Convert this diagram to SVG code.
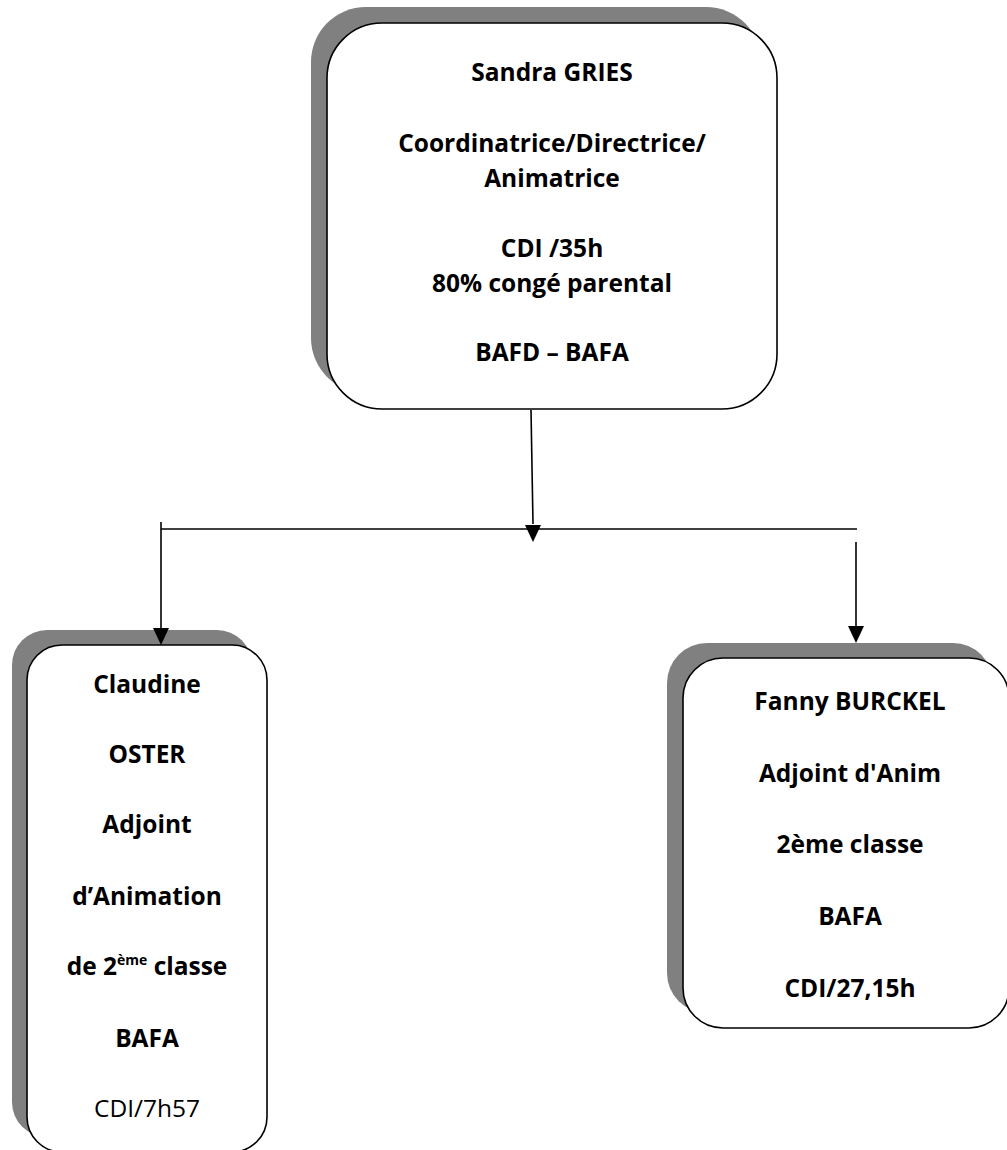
<svg xmlns="http://www.w3.org/2000/svg" width="1007" height="1150" viewBox="0 0 1007 1150">
<defs>
<style>
.shadow{fill:#808080;stroke:none}
.box{fill:#ffffff;stroke:#000000;stroke-width:1.6}
.t{font-family:"Open Sans","Liberation Sans",sans-serif;font-size:24.5px;font-weight:bold;fill:#000;text-anchor:middle}
.r{font-weight:normal}
.line{stroke:#000;stroke-width:1.6;fill:none}
.head{fill:#000}
</style>
</defs>
<rect width="1007" height="1150" fill="#ffffff"/>
<g id="node-sandra">
<rect class="shadow" x="311" y="7" width="450" height="386" rx="55"/>
<rect class="box" x="327" y="23" width="450" height="386" rx="55"/>
<text class="t" x="552" y="81">Sandra GRIES</text>
<text class="t" x="552" y="152">Coordinatrice/Directrice/</text>
<text class="t" x="552" y="187">Animatrice</text>
<text class="t" x="552" y="257">CDI /35h</text>
<text class="t" x="552" y="292">80% congé parental</text>
<text class="t" x="552" y="361">BAFD – BAFA</text>
</g>
<g id="node-claudine">
<rect class="shadow" x="12" y="630" width="240" height="507" rx="35"/>
<rect class="box" x="27" y="645" width="240" height="507" rx="35"/>
<text class="t" x="147" y="693">Claudine</text>
<text class="t" x="147" y="763">OSTER</text>
<text class="t" x="147" y="833">Adjoint</text>
<text class="t" x="147" y="905">d’Animation</text>
<text class="t" x="147" y="975">de 2<tspan font-size="14" dy="-10">ème</tspan><tspan dy="10"> classe</tspan></text>
<text class="t" x="147" y="1047">BAFA</text>
<text class="t r" x="147" y="1117">CDI/7h57</text>
</g>
<g id="node-fanny">
<rect class="shadow" x="667" y="643" width="326" height="370" rx="40"/>
<rect class="box" x="683" y="658" width="326" height="370" rx="40"/>
<text class="t" x="850" y="710">Fanny BURCKEL</text>
<text class="t" x="850" y="782">Adjoint d'Anim</text>
<text class="t" x="850" y="853">2ème classe</text>
<text class="t" x="850" y="925">BAFA</text>
<text class="t" x="850" y="997">CDI/27,15h</text>
</g>
<g id="connectors">
<line class="line" x1="531" y1="410" x2="533" y2="524"/>
<path class="head" d="M525,525 L541,525 L533,542 Z"/>
<line class="line" x1="161" y1="529" x2="857" y2="529"/>
<line class="line" x1="161" y1="522" x2="161" y2="630"/>
<path class="head" d="M153,628 L169,628 L161,645 Z"/>
<line class="line" x1="856" y1="542" x2="856" y2="627"/>
<path class="head" d="M848,626 L864,626 L856,643 Z"/>
</g>
</svg>
